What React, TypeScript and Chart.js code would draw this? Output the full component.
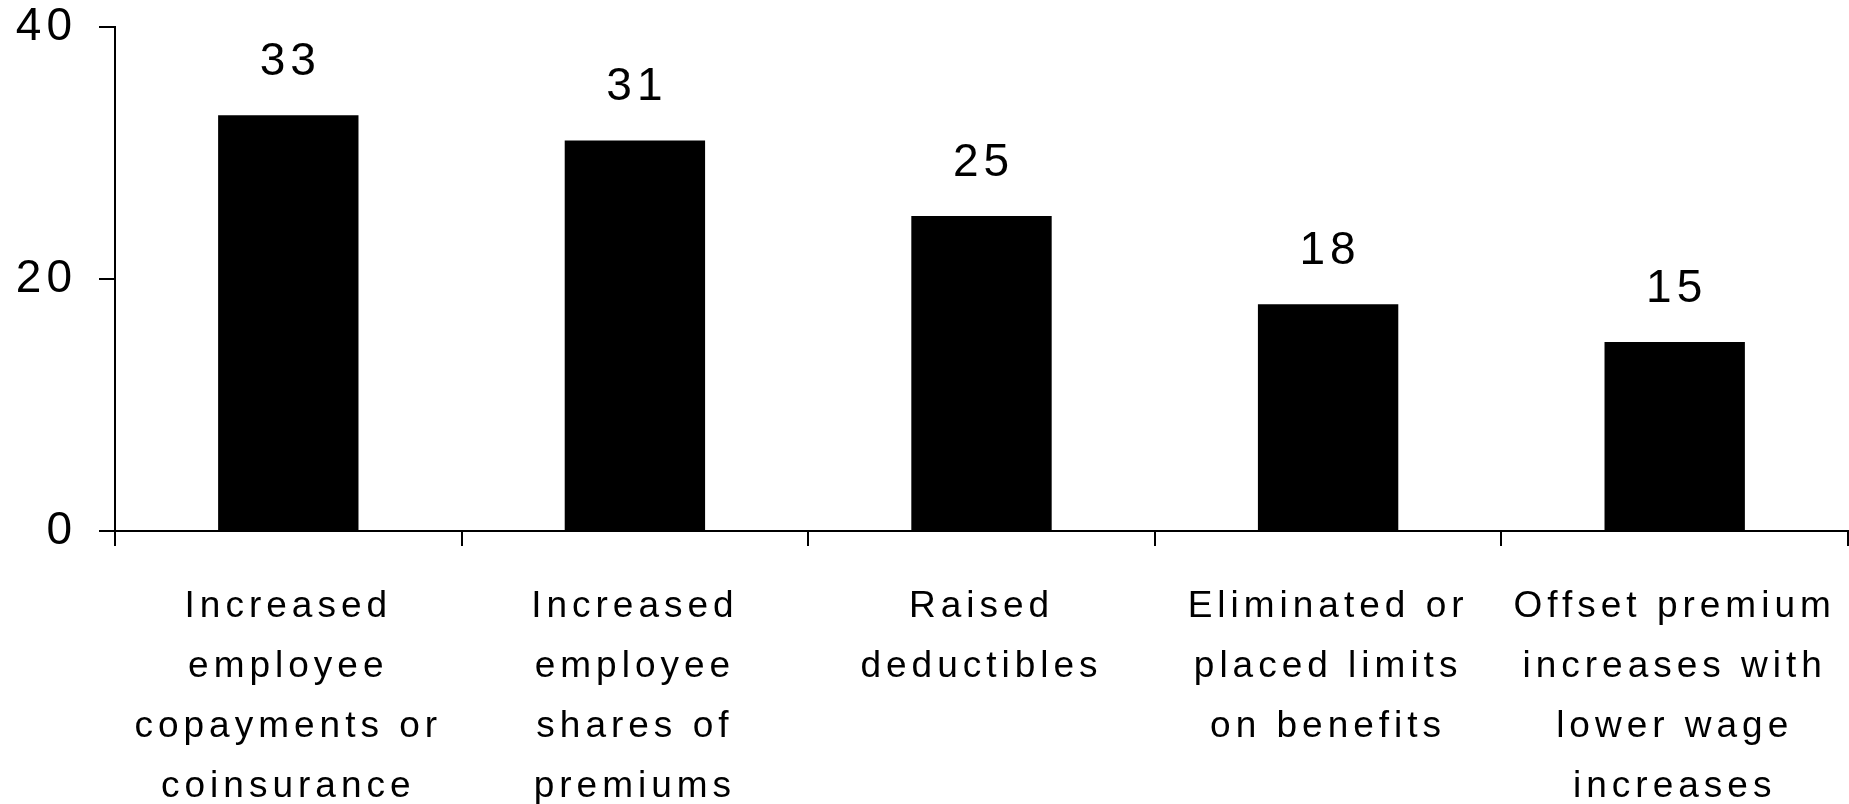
import React, { useEffect, useRef } from "react";
import { Chart, registerables } from "chart.js";

Chart.register(...registerables);

const categories: string[][] = [
  ["Increased", "employee", "copayments or", "coinsurance"],
  ["Increased", "employee", "shares of", "premiums"],
  ["Raised", "deductibles"],
  ["Eliminated or", "placed limits", "on benefits"],
  ["Offset premium", "increases with", "lower wage", "increases"],
];
const values: number[] = [33, 31, 25, 18, 15];
const yTicks: number[] = [0, 20, 40];

const FONT = "'Liberation Sans', Arial, sans-serif";

const spacingPlugin = {
  id: "spacing",
  beforeUpdate(chart: any) {
    chart.ctx.letterSpacing = "5px";
  },
  beforeDraw(chart: any) {
    chart.ctx.letterSpacing = "5px";
  },
};

const valueLabels = {
  id: "valueLabels",
  afterDatasetsDraw(chart: any) {
    const ctx = chart.ctx;
    const meta = chart.getDatasetMeta(0);
    ctx.save();
    ctx.letterSpacing = "5px";
    ctx.font = `46px ${FONT}`;
    ctx.fillStyle = "#000";
    ctx.textAlign = "center";
    ctx.textBaseline = "alphabetic";
    meta.data.forEach((bar: any, i: number) => {
      ctx.fillText(String(values[i]), bar.x + 2, bar.y - 40);
    });
    ctx.restore();
  },
};

export default function App() {
  const ref = useRef<HTMLCanvasElement>(null);
  useEffect(() => {
    if (!ref.current) return;
    const chart = new Chart(ref.current, {
      type: "bar",
      data: {
        labels: categories,
        datasets: [
          {
            data: values,
            backgroundColor: "#000",
            borderWidth: 0,
            barPercentage: 0.405,
            categoryPercentage: 1,
          },
        ],
      },
      options: {
        responsive: false,
        maintainAspectRatio: false,
        animation: false,
        layout: { padding: { top: 27, right: 1, left: 0, bottom: 0 } },
        plugins: { legend: { display: false }, tooltip: { enabled: false } },
        scales: {
          x: {
            offset: true,
            grid: {
              offset: true,
              drawOnChartArea: false,
              drawTicks: true,
              tickLength: 15,
              color: "#000",
              lineWidth: 2,
            },
            border: { display: true, color: "#000", width: 2 },
            ticks: {
              autoSkip: false,
              maxRotation: 0,
              minRotation: 0,
              padding: 31,
              color: "#000",
              font: { family: FONT, size: 37, lineHeight: 60 / 37 },
            },
            afterFit(scale: any) {
              scale.height = 804 - 531;
              scale.paddingLeft = 0;
              scale.paddingRight = 0;
            },
          },
          y: {
            min: 0,
            max: 40,
            afterBuildTicks(scale: any) {
              scale.ticks = yTicks.map((v) => ({ value: v }));
            },
            grid: {
              drawOnChartArea: false,
              drawTicks: true,
              tickLength: 16,
              color: "#000",
              lineWidth: 2,
            },
            border: { display: true, color: "#000", width: 2 },
            ticks: {
              padding: 22,
              color: "#000",
              font: { family: FONT, size: 46 },
            },
            afterFit(scale: any) {
              scale.width = 115;
              scale.paddingTop = 0;
              scale.paddingBottom = 0;
            },
          },
        },
      },
      plugins: [spacingPlugin, valueLabels],
    });
    return () => chart.destroy();
  }, []);
  return (
    <div style={{ position: "fixed", left: 0, top: 0, width: 1849, height: 804, background: "#fff" }}>
      <canvas ref={ref} width={1849} height={804} style={{ display: "block" }} />
    </div>
  );
}
